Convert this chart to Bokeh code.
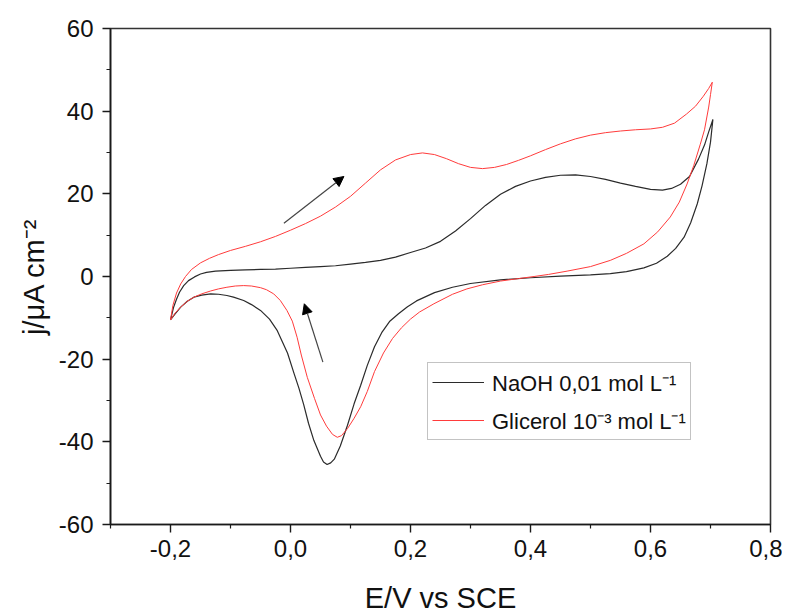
from bokeh.plotting import figure
from bokeh.models import (Range1d, FixedTicker, CustomJSTickFormatter, Legend, LegendItem,
                          Arrow, NormalHead)
from bokeh.embed import file_html
from bokeh.resources import INLINE

# ---- data ----
naoh_x = [-0.200, -0.195, -0.190, -0.185, -0.178, -0.170, -0.160, -0.150, -0.140, -0.125,
          -0.100, -0.075, -0.050, -0.025, 0.000, 0.025, 0.050, 0.075, 0.100, 0.125,
          0.150, 0.175, 0.200, 0.225, 0.250, 0.275, 0.300, 0.325, 0.350, 0.375,
          0.400, 0.425, 0.450, 0.475, 0.500, 0.525, 0.550, 0.575, 0.600, 0.620,
          0.635, 0.650, 0.665, 0.680, 0.690, 0.697, 0.704,
          0.700, 0.694, 0.686, 0.678, 0.667, 0.656, 0.642, 0.628, 0.610, 0.589,
          0.560, 0.533, 0.500, 0.450, 0.400, 0.350, 0.300, 0.270, 0.240, 0.210,
          0.195, 0.180, 0.165, 0.152, 0.140, 0.128, 0.117, 0.106, 0.095, 0.083, 0.073,
          0.067, 0.061, 0.055, 0.050, 0.039, 0.030, 0.022, 0.014, 0.006, -0.005, -0.022, -0.035,
          -0.050, -0.065, -0.078, -0.095, -0.106, -0.120, -0.133, -0.148, -0.161, -0.172,
          -0.183, -0.192, -0.200]
naoh_y = [-10.5, -7.5, -5.5, -3.8, -2.2, -1.0, -0.1, 0.6, 1.0, 1.3,
          1.5, 1.6, 1.7, 1.8, 2.0, 2.2, 2.4, 2.6, 3.0, 3.4,
          3.9, 4.7, 5.8, 6.9, 8.5, 11.0, 14.0, 17.2, 19.9, 21.8,
          23.1, 24.0, 24.5, 24.6, 24.2, 23.5, 22.6, 21.8, 21.1, 20.9,
          21.3, 22.3, 24.2, 28.4, 31.8, 35.0, 38.0,
          32.5, 27.3, 22.0, 17.6, 13.0, 9.5, 6.8, 4.9, 3.2, 2.1,
          1.2, 0.7, 0.4, 0.1, -0.3, -0.8, -1.7, -2.6, -3.9, -5.9,
          -7.3, -9.0, -10.9, -13.6, -17.0, -21.5, -26.3, -30.8, -36.0, -41.0, -44.2,
          -45.1, -45.5, -44.9, -43.5, -39.7, -35.5, -31.0, -27.0, -23.5, -18.5, -13.1, -10.3,
          -8.2, -6.8, -5.8, -5.0, -4.6, -4.3, -4.2, -4.5, -5.0, -6.0,
          -7.4, -9.0, -10.5]

glic_x = [-0.200, -0.196, -0.190, -0.183, -0.175, -0.165, -0.150, -0.135, -0.120, -0.100,
          -0.075, -0.050, -0.025, 0.000, 0.025, 0.050, 0.075, 0.100, 0.125, 0.150,
          0.175, 0.200, 0.220, 0.240, 0.260, 0.280, 0.300, 0.320, 0.340, 0.360,
          0.380, 0.400, 0.425, 0.450, 0.475, 0.500, 0.525, 0.550, 0.575, 0.600,
          0.620, 0.640, 0.660, 0.675, 0.688, 0.697, 0.703,
          0.700, 0.697, 0.690, 0.683, 0.672, 0.661, 0.648, 0.633, 0.612, 0.589,
          0.560, 0.533, 0.500, 0.461, 0.430, 0.406, 0.380, 0.350, 0.320, 0.294,
          0.270, 0.239, 0.215, 0.200, 0.185, 0.170, 0.155, 0.140, 0.128, 0.117,
          0.106, 0.095, 0.085, 0.078, 0.070, 0.060, 0.050, 0.040, 0.028, 0.018,
          0.011, 0.003, -0.006, -0.017, -0.028, -0.040, -0.050, -0.065, -0.078, -0.092,
          -0.106, -0.120, -0.133, -0.148, -0.161, -0.172, -0.183, -0.192, -0.200]
glic_y = [-10.5, -7.0, -4.0, -1.8, 0.0, 1.7, 3.3, 4.4, 5.3, 6.3,
          7.3, 8.4, 9.7, 11.2, 12.8, 14.6, 16.8, 19.4, 22.6, 25.8,
          28.2, 29.5, 29.9, 29.5, 28.5, 27.3, 26.4, 26.1, 26.4, 27.1,
          28.1, 29.2, 30.7, 32.1, 33.3, 34.2, 34.8, 35.2, 35.5, 35.7,
          36.1, 37.1, 39.3, 41.2, 43.6, 45.5, 47.0,
          44.0, 41.0, 35.5, 32.0, 26.8, 22.4, 18.0, 14.4, 10.8, 7.9,
          5.6, 3.9, 2.4, 1.3, 0.5, 0.0, -0.5, -1.1, -2.0, -3.0,
          -4.3, -6.6, -8.6, -10.3, -12.4, -15.0, -18.5, -23.0, -27.8, -31.5,
          -34.3, -36.8, -38.5, -38.9, -38.2, -36.2, -33.5, -29.5, -24.4, -19.0,
          -14.7, -10.8, -8.2, -5.8, -4.2, -3.2, -2.7, -2.3, -2.2, -2.3,
          -2.6, -3.0, -3.5, -4.2, -5.0, -6.0, -7.4, -8.8, -10.5]

series_labels = ["NaOH 0,01 mol L\u207b\u00b9", "Glicerol 10\u207b\u00b3 mol L\u207b\u00b9"]

# scan-direction arrows: (x_start, y_start, x_end, y_end)
arrow_fwd = [-0.011, 12.9, 0.089, 24.2]
arrow_rev = [0.054, -20.7, 0.023, -6.6]

x_major = [-0.2, 0.0, 0.2, 0.4, 0.6, 0.8]
x_minor = [-0.3, -0.1, 0.1, 0.3, 0.5, 0.7]
y_major = [-60, -40, -20, 0, 20, 40, 60]
y_minor = [-50, -30, -10, 10, 30, 50]

FONT = "Liberation Sans"

p = figure(width=782, height=616, output_backend="svg", toolbar_location=None,
           x_range=Range1d(-0.3, 0.8), y_range=Range1d(-60, 60),
           min_border_left=110, min_border_right=12, min_border_top=28, min_border_bottom=92,
           x_axis_label="E/V vs SCE", y_axis_label="j/\u03bcA cm\u207b\u00b2")
p.xgrid.visible = False
p.ygrid.visible = False
p.outline_line_color = "#333333"
p.outline_line_width = 1.6
p.background_fill_color = "white"
p.border_fill_color = "white"

r1 = p.line(naoh_x, naoh_y, line_color="#2b2b2b", line_width=1.2)
r2 = p.line(glic_x, glic_y, line_color="#ff3b3b", line_width=1.0)

for a in (arrow_fwd, arrow_rev):
    p.add_layout(Arrow(end=NormalHead(size=10, fill_color="black", line_color="black", line_width=1),
                       x_start=a[0], y_start=a[1], x_end=a[2], y_end=a[3],
                       line_color="#444444", line_width=1.2))

xa = p.xaxis[0]
xa.ticker = FixedTicker(ticks=x_major, minor_ticks=x_minor)
xa.formatter = CustomJSTickFormatter(code="return tick.toFixed(1).replace('.', ',');")
ya = p.yaxis[0]
ya.ticker = FixedTicker(ticks=y_major, minor_ticks=y_minor)
ya.formatter = CustomJSTickFormatter(code="return tick.toFixed(0);")

for ax in (xa, ya):
    ax.axis_line_color = "#1a1a1a"
    ax.axis_line_width = 1.6
    ax.major_tick_line_color = "#1a1a1a"
    ax.major_tick_line_width = 1.4
    ax.minor_tick_line_color = "#1a1a1a"
    ax.minor_tick_line_width = 1.2
    ax.major_tick_in = 0
    ax.major_tick_out = 8
    ax.minor_tick_in = 0
    ax.minor_tick_out = 4
    ax.major_label_text_font = FONT
    ax.major_label_text_font_size = "24px"
    ax.major_label_text_color = "#111111"
    ax.axis_label_text_font = FONT
    ax.axis_label_text_font_size = "29px"
    ax.axis_label_text_font_style = "normal"
    ax.axis_label_text_color = "#111111"

xa.major_label_standoff = 7
xa.axis_label_standoff = 22
ya.major_label_standoff = 9
ya.axis_label_standoff = 6

legend = Legend(items=[LegendItem(label=series_labels[0], renderers=[r1]),
                       LegendItem(label=series_labels[1], renderers=[r2])],
                location=(317, 84), orientation="vertical")
legend.label_text_font = FONT
legend.label_text_font_size = "22px"
legend.label_text_color = "#111111"
legend.glyph_width = 52
legend.glyph_height = 22
legend.label_height = 22
legend.label_standoff = 8
legend.spacing = 8
legend.padding = 4
legend.margin = 0
legend.border_line_color = "#888888"
legend.border_line_width = 1.5
legend.background_fill_alpha = 1.0
p.add_layout(legend)

open("out.html", "w").write(file_html(p, INLINE))
